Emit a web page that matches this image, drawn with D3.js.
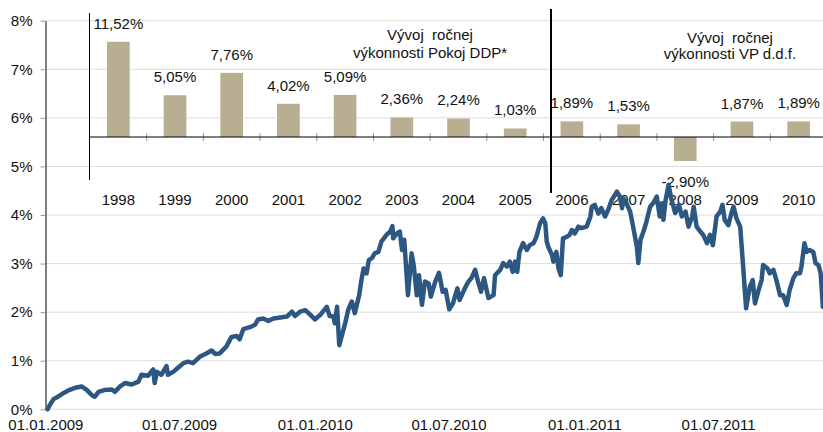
<!DOCTYPE html>
<html><head><meta charset="utf-8">
<script src="https://cdn.jsdelivr.net/npm/d3@7"></script>
<style>
html,body{margin:0;padding:0;background:#fff;}
svg{display:block;font-family:"Liberation Sans",Arial,sans-serif;}
</style></head>
<body>
<svg id="c" width="823" height="432"></svg>
<script>
// ---- main line data (cumulative performance, %) ----
const lineDates = [
"2009-01-04","2009-01-07","2009-01-12","2009-01-18","2009-01-25","2009-02-03","2009-02-12","2009-02-19","2009-02-26","2009-03-05",
"2009-03-09","2009-03-14","2009-03-23","2009-04-01","2009-04-05","2009-04-12","2009-04-19","2009-04-28","2009-05-07","2009-05-11",
"2009-05-20","2009-05-27","2009-05-29","2009-06-01","2009-06-07","2009-06-14","2009-06-16","2009-06-23","2009-06-30","2009-07-07",
"2009-07-13","2009-07-20","2009-07-29","2009-08-07","2009-08-14","2009-08-19","2009-08-25","2009-09-03","2009-09-10","2009-09-17",
"2009-09-21","2009-09-26","2009-10-05","2009-10-12","2009-10-16","2009-10-23","2009-10-30","2009-11-06","2009-11-15","2009-11-24",
"2009-12-01","2009-12-05","2009-12-12","2009-12-19","2009-12-25",
"2010-01-01","2010-01-08","2010-01-17","2010-01-21","2010-01-26","2010-01-28","2010-01-31","2010-02-03","2010-02-06","2010-02-11",
"2010-02-15","2010-02-20","2010-02-24","2010-03-02","2010-03-05","2010-03-08","2010-03-12","2010-03-15","2010-03-19","2010-03-23",
"2010-03-28","2010-04-01","2010-04-08","2010-04-13","2010-04-16","2010-04-17","2010-04-22","2010-04-26","2010-04-29","2010-05-02",
"2010-05-07","2010-05-12","2010-05-15","2010-05-19","2010-05-22","2010-05-26","2010-05-30","2010-06-04","2010-06-07","2010-06-13",
"2010-06-18","2010-06-23","2010-06-27","2010-07-02","2010-07-07","2010-07-13","2010-07-16","2010-07-23","2010-07-28","2010-08-01",
"2010-08-06","2010-08-10","2010-08-14","2010-08-18","2010-08-24","2010-08-31","2010-09-02","2010-09-09","2010-09-13","2010-09-18",
"2010-09-22","2010-09-26","2010-09-29","2010-10-02","2010-10-05","2010-10-10","2010-10-15","2010-10-19","2010-10-24","2010-10-28",
"2010-11-02","2010-11-06","2010-11-09","2010-11-11","2010-11-13","2010-11-18","2010-11-20","2010-11-24","2010-11-27","2010-11-30",
"2010-12-03","2010-12-08","2010-12-12","2010-12-15","2010-12-19","2010-12-24","2010-12-28",
"2011-01-04","2011-01-09","2011-01-11","2011-01-15","2011-01-20","2011-01-24","2011-01-29","2011-02-02","2011-02-07","2011-02-14",
"2011-02-18","2011-02-21","2011-02-23","2011-02-27","2011-03-04","2011-03-08","2011-03-13","2011-03-15","2011-03-18","2011-03-22",
"2011-03-26","2011-03-31","2011-04-04","2011-04-09","2011-04-13","2011-04-16","2011-04-18","2011-04-21","2011-04-25","2011-04-29",
"2011-05-04","2011-05-09","2011-05-13","2011-05-18","2011-05-22","2011-05-27","2011-05-29","2011-06-02","2011-06-07","2011-06-11",
"2011-06-16","2011-06-20","2011-06-24","2011-06-29","2011-07-04","2011-07-07","2011-07-10","2011-07-15","2011-07-19","2011-07-22",
"2011-07-26","2011-07-31","2011-08-04","2011-08-08","2011-08-13","2011-08-17","2011-08-20","2011-08-25","2011-08-29","2011-08-31",
"2011-09-06","2011-09-09","2011-09-14","2011-09-18","2011-09-23","2011-09-27","2011-10-02","2011-10-06","2011-10-11","2011-10-15",
"2011-10-20","2011-10-22","2011-10-26","2011-10-29","2011-11-02","2011-11-07","2011-11-10","2011-11-14","2011-11-17","2011-11-20"
];
const lineValues = [
0.00,0.09,0.21,0.26,0.33,0.40,0.45,0.47,0.40,0.29,
0.26,0.36,0.40,0.41,0.36,0.47,0.54,0.51,0.57,0.71,
0.69,0.82,0.54,0.77,0.71,0.89,0.71,0.77,0.86,0.95,
0.98,0.95,1.08,1.15,1.21,1.14,1.15,1.29,1.49,1.51,
1.44,1.65,1.69,1.74,1.85,1.87,1.82,1.87,1.89,1.91,
2.01,1.92,2.01,2.04,1.96,
1.85,1.94,2.11,1.92,1.91,1.77,2.11,1.32,1.49,1.77,
2.04,2.22,1.98,2.35,2.66,2.90,2.80,3.07,3.11,3.21,
3.24,3.45,3.59,3.66,3.77,3.52,3.62,3.66,3.28,3.49,
2.35,3.21,2.94,2.35,2.76,2.15,2.63,2.59,2.32,2.63,
2.81,2.42,2.46,2.06,2.18,2.49,2.25,2.49,2.63,2.70,
2.87,2.63,2.42,2.70,2.29,2.35,2.76,2.87,3.01,2.94,
3.04,2.83,3.04,2.83,3.24,3.42,3.28,3.38,3.42,3.55,
3.83,3.93,3.83,3.45,3.35,3.18,3.04,3.24,2.90,2.76,
3.52,3.55,3.59,3.69,3.62,3.76,3.73,
3.76,3.96,4.17,4.21,4.03,4.14,3.97,4.10,4.31,4.48,
4.38,4.14,4.34,4.24,4.07,3.76,3.35,3.01,3.49,3.66,
3.86,4.17,4.24,4.38,3.97,4.24,3.90,4.31,4.62,4.31,
4.04,4.21,3.97,4.07,3.76,3.97,4.17,3.76,3.66,3.59,
3.42,3.59,3.38,3.97,4.07,4.21,3.90,3.79,4.03,4.17,
3.93,3.76,2.94,2.08,2.52,2.66,2.18,2.46,2.66,2.97,
2.90,2.80,2.87,2.66,2.35,2.35,2.15,2.46,2.70,2.80,
2.80,2.94,3.42,3.24,3.28,3.24,3.01,2.97,2.80,2.11
];
const yTicks = [0,1,2,3,4,5,6,7,8];
const xTickDates = ["2009-01-01","2009-07-01","2010-01-01","2010-07-01","2011-01-01","2011-07-01"];

// ---- inset bar data (annual performance, %) ----
const years = ["1998","1999","2000","2001","2002","2003","2004","2005","2006","2007","2008","2009","2010"];
const yearValues = [11.52,5.05,7.76,4.02,5.09,2.36,2.24,1.03,1.89,1.53,-2.90,1.87,1.89];
const titleLeft = ["Vývoj  ročnej","výkonnosti Pokoj DDP*"];
const titleRight = ["Vývoj  ročnej","výkonnosti VP d.d.f."];

const parse = d3.utcParse("%Y-%m-%d");
const svg = d3.select("#c");
const W = 823;
const FS = 15;

const x = d3.scaleUtc().domain([parse("2009-01-01"), parse("2012-01-01")]).range([45.4, 853.9]);
const y = d3.scaleLinear().domain([0, 8]).range([409.3, 20.7]);

// gridlines
svg.append("g").selectAll("line").data(yTicks).join("line")
  .attr("x1", 45).attr("x2", W)
  .attr("y1", d => y(d)).attr("y2", d => y(d))
  .attr("stroke", "#dddddd").attr("stroke-width", 1);

// y axis
const ya = svg.append("g").attr("transform", "translate(45.5,0)")
  .call(d3.axisLeft(y).tickValues(yTicks).tickFormat(d => d + "%").tickSize(5).tickSizeOuter(0).tickPadding(8));
ya.select(".domain").attr("stroke", "#000");
ya.selectAll(".tick line").attr("stroke", "#999");
ya.selectAll("text").attr("font-size", FS).attr("fill", "#111").attr("font-family", "Liberation Sans, Arial, sans-serif");

// x axis labels
const xa = svg.append("g").attr("transform", `translate(0,${y(0)})`)
  .call(d3.axisBottom(x).tickValues(xTickDates.map(parse)).tickFormat(d3.utcFormat("%d.%m.%Y")).tickSize(0).tickPadding(10));
xa.select(".domain").remove();
xa.selectAll("text").attr("font-size", FS).attr("fill", "#111").attr("font-family", "Liberation Sans, Arial, sans-serif");

// ---- inset bar chart ----
const xb = d3.scaleBand().domain(years).range([90, 827]).paddingInner(0.6).paddingOuter(0.3);
const yb = d3.scaleLinear().domain([-5.2, 15]).range([180, 13]);
const step = xb.step();
const g = svg.append("g");

g.selectAll("rect").data(years).join("rect")
  .attr("x", (d) => xb(d))
  .attr("width", xb.bandwidth())
  .attr("y", (d, i) => yb(Math.max(0, yearValues[i])))
  .attr("height", (d, i) => Math.abs(yb(yearValues[i]) - yb(0)))
  .attr("fill", "#b8ae92");

// band ticks on zero line
g.append("g").selectAll("line").data(d3.range(1, 13)).join("line")
  .attr("x1", i => xb.range()[0] + i * step).attr("x2", i => xb.range()[0] + i * step)
  .attr("y1", yb(0) - 4).attr("y2", yb(0) + 4)
  .attr("stroke", "#999").attr("stroke-width", 1);

// zero line
g.append("line").attr("x1", 89.5).attr("x2", W).attr("y1", yb(0)).attr("y2", yb(0))
  .attr("stroke", "#000").attr("stroke-width", 1.2);
// inset left axis
g.append("line").attr("x1", 89.5).attr("x2", 89.5).attr("y1", yb(15)).attr("y2", yb(-5.2))
  .attr("stroke", "#000").attr("stroke-width", 1);
// divider
g.append("line").attr("x1", 551).attr("x2", 551).attr("y1", 9).attr("y2", 193)
  .attr("stroke", "#000").attr("stroke-width", 2);

// year labels
g.append("g").selectAll("text").data(years).join("text")
  .attr("x", d => xb(d) + xb.bandwidth() / 2).attr("y", 204.5)
  .attr("text-anchor", "middle").attr("font-size", FS).attr("fill", "#111")
  .text(d => d);

// value labels
const fmt = v => v.toFixed(2).replace(".", ",") + "%";
g.append("g").selectAll("text").data(years).join("text")
  .attr("x", d => xb(d) + xb.bandwidth() / 2)
  .attr("y", (d, i) => yearValues[i] >= 0 ? yb(yearValues[i]) - 13 : yb(yearValues[i]) + 26)
  .attr("text-anchor", "middle").attr("font-size", FS).attr("fill", "#111")
  .text((d, i) => fmt(yearValues[i]));

// titles
g.append("g").selectAll("text").data(titleLeft).join("text")
  .attr("x", 430).attr("y", (d, i) => 40 + i * 17.5)
  .attr("text-anchor", "middle").attr("font-size", FS).attr("fill", "#111")
  .attr("xml:space", "preserve").style("white-space", "pre")
  .text(d => d);
g.append("g").selectAll("text").data(titleRight).join("text")
  .attr("x", 730).attr("y", (d, i) => 42.5 + i * 16.5)
  .attr("text-anchor", "middle").attr("font-size", FS).attr("fill", "#111")
  .attr("xml:space", "preserve").style("white-space", "pre")
  .text(d => d);

// ---- main line ----
svg.append("defs").append("clipPath").attr("id", "clip")
  .append("rect").attr("x", 45).attr("y", 0).attr("width", W - 45).attr("height", 432);
const line = d3.line().x((d, i) => x(parse(lineDates[i]))).y((d) => y(d)).curve(d3.curveLinear);
svg.append("path").datum(lineValues)
  .attr("clip-path", "url(#clip)")
  .attr("d", line)
  .attr("fill", "none").attr("stroke", "#2d5783").attr("stroke-width", 4.5)
  .attr("stroke-linejoin", "round").attr("stroke-linecap", "round");
</script>
</body></html>
